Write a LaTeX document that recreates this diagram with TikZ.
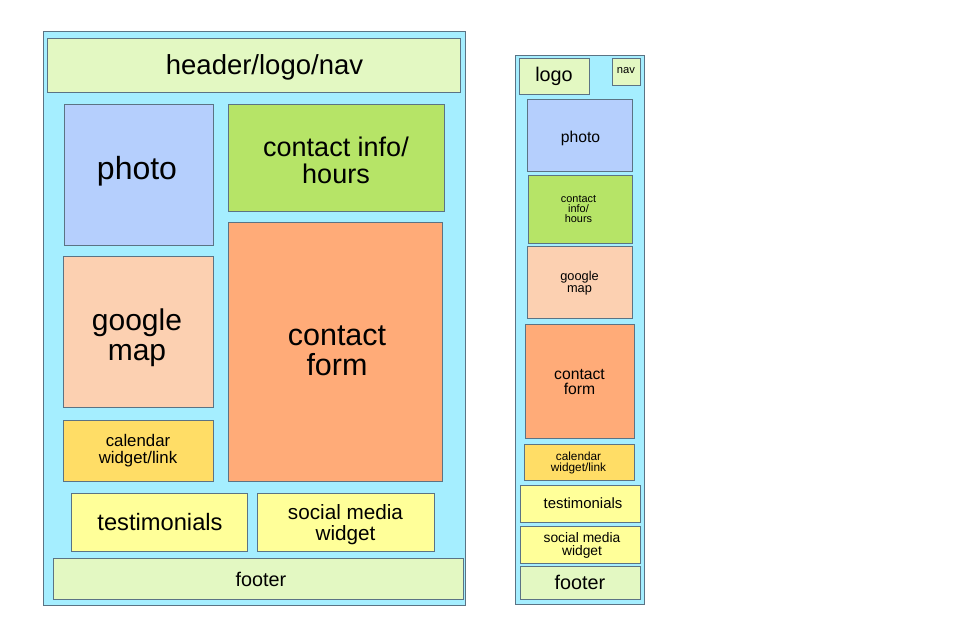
\documentclass[tikz,border=0pt]{standalone}
\usepackage{fontspec}
\setmainfont{Liberation Sans}
\definecolor{bgcyan}{HTML}{A5EEFF}
\definecolor{lgreen}{HTML}{E3F8C2}
\definecolor{pblue}{HTML}{B5CFFD}
\definecolor{igreen}{HTML}{B6E467}
\definecolor{mpeach}{HTML}{FCD0B1}
\definecolor{forange}{HTML}{FFAB78}
\definecolor{cyellow}{HTML}{FFDD66}
\definecolor{tyellow}{HTML}{FFFF99}
\definecolor{edge}{HTML}{5B7384}
\newcommand{\fs}[2]{\fontsize{#1}{#2}\selectfont}
\begin{document}
\begin{tikzpicture}[x=1pt,y=-1pt,
  box/.style={draw=edge, line width=1pt, rectangle, inner sep=0pt},
  lbl/.style={inner sep=0pt, align=center, text=black},
  wh/.style 2 args={minimum width=#1pt, minimum height=#2pt}]
\useasboundingbox (0,0) rectangle (966,630);
% ---------- left layout ----------
\node[box, fill=bgcyan, wh={422}{574}] (outerL) at (254,318) {};
\node[box, fill=lgreen, wh={413}{54}] (headerL) at (253.5,65) {};
\node[box, fill=pblue, wh={149}{141}] (photoL) at (138.5,174.5) {};
\node[box, fill=igreen, wh={216}{107}] (infoL) at (336,157.5) {};
\node[box, fill=forange, wh={214}{259}] (formL) at (335,351.5) {};
\node[box, fill=mpeach, wh={150}{151}] (mapL) at (138,331.5) {};
\node[box, fill=cyellow, wh={150}{61}] (calL) at (138,450.5) {};
\node[box, fill=tyellow, wh={176}{58}] (testL) at (159,522) {};
\node[box, fill=tyellow, wh={177}{58}] (socL) at (345.5,522) {};
\node[box, fill=lgreen, wh={410}{41}] (footL) at (258,578.5) {};
\node[lbl, font=\fs{27.5}{30}] (headerLt) at ([shift={(11,2)}]headerL.center) {header/logo/nav};
\node[lbl, font=\fs{32}{34}] (photoLt) at ([shift={(-1.5,-3)}]photoL.center) {photo};
\node[lbl, font=\fs{27}{27}] (infoLt) at ([shift={(0,3)}]infoL.center) {contact info/\\hours};
\node[lbl, font=\fs{30.5}{30}] (formLt) at ([shift={(2,-1)}]formL.center) {contact\\form};
\node[lbl, font=\fs{30}{30}] (mapLt) at ([shift={(-1,6.5)}]mapL.center) {google\\map};
\node[lbl, font=\fs{16.8}{16.5}] (calLt) at (calL.center) {calendar\\widget/link};
\node[lbl, font=\fs{23.7}{26}] (testLt) at ([shift={(1,0)}]testL.center) {testimonials};
\node[lbl, font=\fs{20.7}{20.7}] (socLt) at ([shift={(0,2.5)}]socL.center) {social media\\widget};
\node[lbl, font=\fs{19.8}{22}] (footLt) at ([shift={(3,0.5)}]footL.center) {footer};
% ---------- right layout ----------
\node[box, fill=bgcyan, wh={129}{549}] (outerR) at (579.5,329.5) {};
\node[box, fill=lgreen, wh={70}{36}] (logoR) at (554,76) {};
\node[box, fill=lgreen, wh={28}{27}] (navR) at (626,71.5) {};
\node[box, fill=pblue, wh={105}{72}] (photoR) at (579.5,135) {};
\node[box, fill=igreen, wh={104}{68}] (infoR) at (580,209) {};
\node[box, fill=mpeach, wh={105}{72}] (mapR) at (579.5,282) {};
\node[box, fill=forange, wh={109}{114}] (formR) at (579.5,381) {};
\node[box, fill=cyellow, wh={110}{36}] (calR) at (579,462) {};
\node[box, fill=tyellow, wh={120}{37}] (testR) at (580,503.5) {};
\node[box, fill=tyellow, wh={120}{37}] (socR) at (580,544.5) {};
\node[box, fill=lgreen, wh={120}{33}] (footR) at (580,582.5) {};
\node[lbl, font=\fs{19.8}{22}] (logoRt) at (logoR.center) {logo};
\node[lbl, font=\fs{11.2}{12}] (navRt) at ([shift={(0,-1)}]navR.center) {nav};
\node[lbl, font=\fs{15.7}{17}] (photoRt) at ([shift={(1,3.5)}]photoR.center) {photo};
\node[lbl, font=\fs{10.9}{10}] (infoRt) at ([shift={(-1.5,0)}]infoR.center) {contact\\info/\\hours};
\node[lbl, font=\fs{12.8}{12.3}] (mapRt) at ([shift={(0,1)}]mapR.center) {google\\map};
\node[lbl, font=\fs{15.7}{15}] (formRt) at ([shift={(0,1)}]formR.center) {contact\\form};
\node[lbl, font=\fs{11.8}{10.7}] (calRt) at ([shift={(-0.5,1)}]calR.center) {calendar\\widget/link};
\node[lbl, font=\fs{14.9}{16}] (testRt) at ([shift={(3,0)}]testR.center) {testimonials};
\node[lbl, font=\fs{13.8}{12.3}] (socRt) at ([shift={(2,1)}]socR.center) {social media\\widget};
\node[lbl, font=\fs{19.8}{22}] (footRt) at (footR.center) {footer};
\end{tikzpicture}
\end{document}
